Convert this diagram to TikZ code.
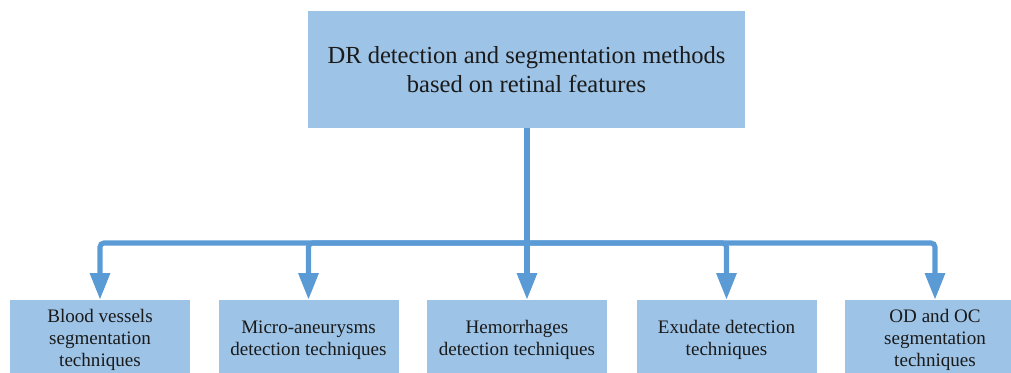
\documentclass[tikz,border=0pt]{standalone}
\usepackage{fontspec}
\setmainfont{Liberation Serif}
\usetikzlibrary{arrows.meta}
\definecolor{boxfill}{HTML}{9DC3E6}
\definecolor{arrowblue}{HTML}{5B9BD5}
\definecolor{txt}{HTML}{1A1A1A}
\tikzset{
  topbox/.style={rectangle, fill=boxfill, draw=none, align=center, text=txt,
    minimum width=437*0.75pt, minimum height=117*0.75pt, inner sep=0pt,
    font=\fontsize{18.4}{21.75}\selectfont},
  subbox/.style={rectangle, fill=boxfill, draw=none, align=center, text=txt,
    minimum width=180*0.75pt, minimum height=80*0.75pt, inner sep=0pt,
    font=\fontsize{14.3}{16.5}\selectfont},
  conn/.style={draw=arrowblue, line width=3.8pt, rounded corners=3pt,
    -{Triangle[length=20pt,width=14.5pt]}},
  trunk/.style={draw=arrowblue, line width=3.8pt}
}
\begin{document}
\begin{tikzpicture}[x=0.75pt,y=-0.75pt]
\useasboundingbox (0,0) rectangle (1011,373);
\node[topbox] (top) at (526.5,69.5) {DR detection and segmentation methods\\based on retinal features};
\node[subbox] (b1) at (100,340) {Blood vessels\\segmentation\\techniques};
\node[subbox] (b2) at (308.5,340) {Micro-aneurysms\\detection techniques};
\node[subbox] (b3) at (517,340) {Hemorrhages\\detection techniques};
\node[subbox] (b4) at (726.5,340) {Exudate detection\\techniques};
\node[subbox] (b5) at (935,340) {OD and OC\\segmentation\\techniques};
\coordinate (j) at (527,243);
\draw[trunk] (top.south -| j) -- (j);
\draw[conn] (j) -| (b1.north);
\draw[conn] (j) -| (b2.north);
\draw[conn] (j) -- (j |- b3.north);
\draw[conn] (j) -| (b4.north);
\draw[conn] (j) -| (b5.north);
\end{tikzpicture}
\end{document}
